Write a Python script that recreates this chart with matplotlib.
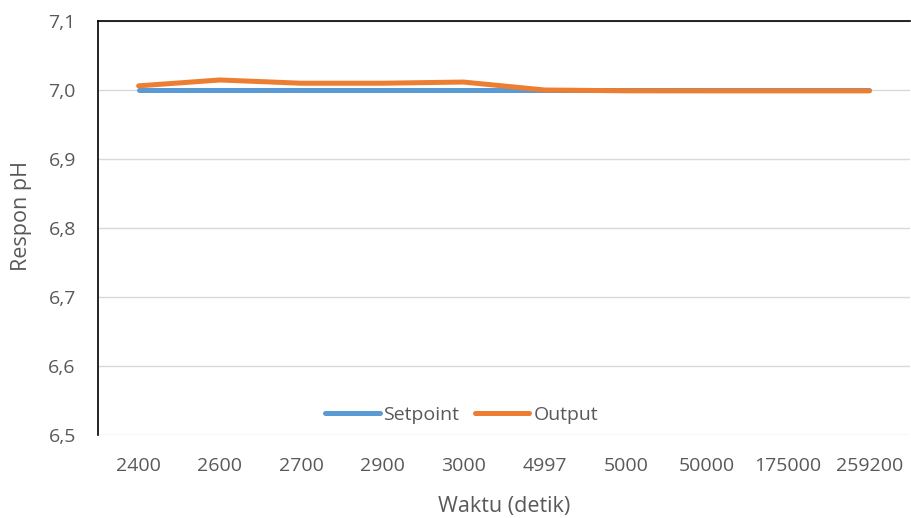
import matplotlib
matplotlib.use("Agg")
import matplotlib.pyplot as plt
from matplotlib.ticker import FuncFormatter

waktu = ["2400", "2600", "2700", "2900", "3000", "4997", "5000", "50000", "175000", "259200"]
setpoint = [7.0, 7.0, 7.0, 7.0, 7.0, 7.0, 7.0, 7.0, 7.0, 7.0]
output = [7.006, 7.0145, 7.0098, 7.0098, 7.0115, 7.0, 6.9988, 6.9987, 6.9987, 6.9987]

plt.rcParams["font.family"] = ["Open Sans", "DejaVu Sans"]
text_color = "#595959"
fs = 14
fs_label = 15.5

fig = plt.figure(figsize=(9.11, 5.18), dpi=100)
ax = fig.add_axes([0.1076, 0.1602, 0.8913, 0.7993])

x = list(range(len(waktu)))
ax.plot(x, setpoint, color="#5B9BD5", lw=3.6, solid_capstyle="round", label="Setpoint", zorder=3)
ax.plot(x, output, color="#ED7D31", lw=3.6, solid_capstyle="round", label="Output", zorder=4)

ax.set_xlim(-0.5, len(waktu) - 0.5)
ax.set_ylim(6.5, 7.1)
ax.set_yticks([6.5, 6.6, 6.7, 6.8, 6.9, 7.0, 7.1])
ax.yaxis.set_major_formatter(FuncFormatter(lambda v, p: f"{v:.1f}".replace(".", ",")))
ax.set_xticks(x)
ax.set_xticklabels(waktu)

ax.grid(axis="y", color="#D9D9D9", lw=1.0, zorder=0)
ax.set_axisbelow(True)
for side in ["right", "bottom"]:
    ax.spines[side].set_visible(False)
ax.spines["left"].set_color("black")
ax.spines["top"].set_color("black")
ax.spines["left"].set_linewidth(1.2)
ax.spines["top"].set_linewidth(1.2)

ax.tick_params(axis="both", length=0, labelsize=fs, labelcolor=text_color)
ax.tick_params(axis="y", pad=16)
ax.tick_params(axis="x", pad=16)

ax.set_xlabel("Waktu (detik)", fontsize=fs_label, color=text_color, labelpad=15)
ax.set_ylabel("Respon pH", fontsize=fs_label, color=text_color, labelpad=12, y=0.53)

leg = ax.legend(loc="center", bbox_to_anchor=(0.4477, 0.048), ncol=2, frameon=False,
                fontsize=fs, handlelength=2.8, handletextpad=0.2, columnspacing=0.8)
for t in leg.get_texts():
    t.set_color(text_color)

fig.savefig("out.png", dpi=100)
